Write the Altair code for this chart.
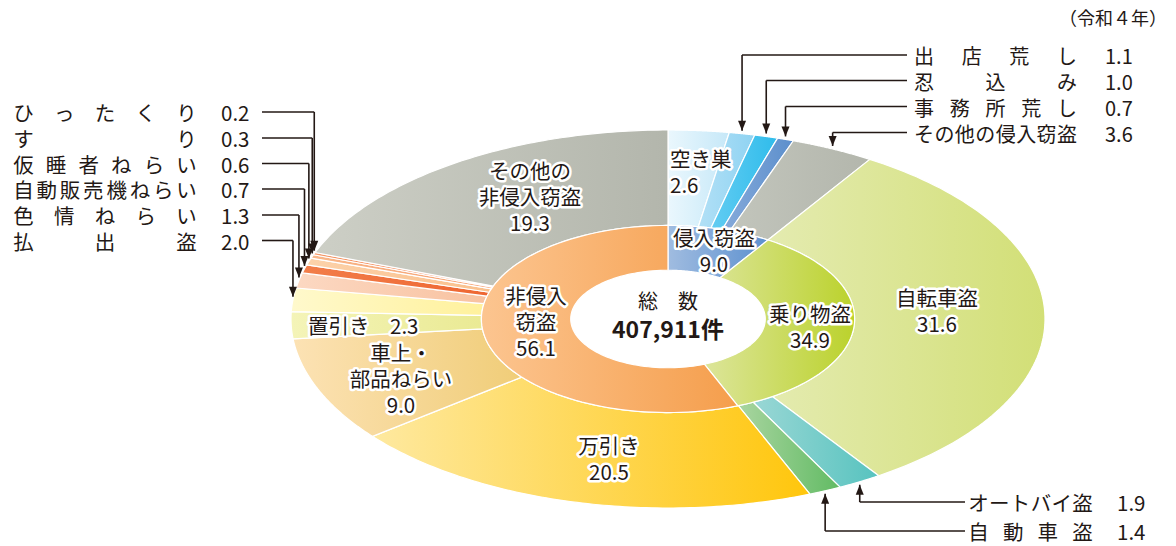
import altair as alt
import pandas as pd

# ---------------- data ----------------
outer_names = ["空き巣", "出店荒し", "忍込み", "事務所荒し", "その他の侵入窃盗",
               "自転車盗", "オートバイ盗", "自動車盗",
               "万引き", "車上・部品ねらい", "置引き", "払出盗", "色情ねらい",
               "自動販売機ねらい", "仮睡者ねらい", "すり", "ひったくり", "その他の非侵入窃盗"]
outer_values = [2.6, 1.1, 1.0, 0.7, 3.6,
                31.6, 1.9, 1.4,
                20.5, 9.0, 2.3, 2.0, 1.3, 0.7, 0.6, 0.3, 0.2, 19.3]
inner_names = ["侵入窃盗", "乗り物盗", "非侵入窃盗"]
inner_values = [9.0, 34.9, 56.1]
total_count = 407911
total_title = "総　数"
year_note = "（令和４年）"

rows = []
for i, (n, v) in enumerate(zip(outer_names, outer_values)):
    rows.append({"ring": "outer", "name": n, "value": v, "ord": i})
for i, (n, v) in enumerate(zip(inner_names, inner_values)):
    rows.append({"ring": "inner", "name": n, "value": v, "ord": i})
df = pd.DataFrame(rows)

# ---------------- layout / style ----------------
W, H = 1176, 546
CX, CY, RX, RY = 668, 319, 377, 189


def xd(px):
    return (px - CX) / RX


def yd(py):
    return (CY - py) / RY


XS = alt.Scale(domain=[xd(0), xd(W)], nice=False, zero=False)
YS = alt.Scale(domain=[yd(H), yd(0)], nice=False, zero=False)
R_HOLE, R_MID, R_OUT = 0.258, 0.495, 1.0
N = 90
FONT = "Noto Sans CJK JP"
INK = "#231815"
DY = 3

colors = {
    "空き巣": ("#EAF7FD", "#C6E8F8"),
    "出店荒し": ("#B2E0F6", "#8FD3F2"),
    "忍込み": ("#62CCF2", "#2FBCEB"),
    "事務所荒し": ("#86AADA", "#5C8FCC"),
    "その他の侵入窃盗": ("#C2C5BC", "#B3B6AC"),
    "自転車盗": ("#E4EBB0", "#D2DF76"),
    "オートバイ盗": ("#9AD7D5", "#57C3BF"),
    "自動車盗": ("#A9D5A0", "#62BB64"),
    "万引き": ("#FEE9A0", "#FFC60C"),
    "車上・部品ねらい": ("#FCE2B4", "#F0CD78"),
    "置引き": ("#F4F4B8", "#EAEA94"),
    "払出盗": ("#FFF9CC", "#FFF19C"),
    "色情ねらい": ("#FCD8C2", "#F8C2A0"),
    "自動販売機ねらい": ("#F27E4A", "#EE6632"),
    "仮睡者ねらい": ("#FCD2AA", "#FAC08C"),
    "すり": ("#F9B688", "#F6A070"),
    "ひったくり": ("#F59868", "#F08050"),
    "その他の非侵入窃盗": ("#CDCFC6", "#B3B6AC"),
    "侵入窃盗": ("#A0BCE0", "#5C90CF"),
    "乗り物盗": ("#DCE59A", "#BBD22C"),
    "非侵入窃盗": ("#FCC590", "#F59E4C"),
}


def grad(c1, c2):
    return {"gradient": "linear", "x1": 0, "x2": 1, "y1": 0, "y2": 0,
            "stops": [{"offset": 0, "color": c1}, {"offset": 1, "color": c2}]}


def only(name):
    return alt.datum.name == name


layers = []

# ---------------- slices (elliptical donut via x/y scales) ----------------
for nm in outer_names + inner_names:
    c1, c2 = colors[nm]
    lay = (
        alt.Chart()
        .transform_filter(only(nm))
        .transform_calculate(pts=f"sequence(0, {2 * N + 3})")
        .transform_flatten(["pts"])
        .transform_calculate(
            t=f"datum.pts <= {N} ? datum.pts/{N} : (datum.pts <= {2 * N + 1} ? 1 - (datum.pts-{N + 1})/{N} : 0)")
        .transform_calculate(
            rr=f"(datum.pts <= {N} || datum.pts > {2 * N + 1}) ? datum.r1 : datum.r0")
        .transform_calculate(ang="datum.a0 + (datum.a1 - datum.a0) * datum.t")
        .transform_calculate(X="datum.rr * sin(datum.ang)")
        .transform_calculate(Y="datum.rr * cos(datum.ang)")
        .mark_line(filled=True, fill=grad(c1, c2), stroke="white", strokeWidth=1.2,
                   strokeJoin="round", interpolate="linear")
        .encode(x=alt.X("X:Q", scale=XS, axis=None),
                y=alt.Y("Y:Q", scale=YS, axis=None),
                order=alt.Order("pts:Q"))
    )
    layers.append(lay)

# ---------------- callouts ----------------
ARROW_DOWN = "M-2,-5L2,-5L0,0Z"
ARROW_UP = "M-2,5L2,5L0,0Z"


def callout(name, row_py, name_x0, name_x1, val_x, line_x, fs, direction):
    off = 3 / RY
    if direction == "down":
        ty = f"cos(datum.am) + {off}"
        shape = ARROW_DOWN
    else:
        ty = f"cos(datum.am) - {off}"
        shape = ARROW_UP
    base = (
        alt.Chart()
        .transform_filter(only(name))
        .transform_calculate(tx="sin(datum.am)")
        .transform_calculate(ty=ty)
        .transform_calculate(ry=f"{yd(row_py)}")
        .transform_calculate(hx=f"{xd(line_x)}")
    )
    hline = base.mark_rule(color=INK, strokeWidth=1.6).encode(
        x=alt.X("tx:Q", scale=XS, axis=None), x2=alt.X2("hx"),
        y=alt.Y("ry:Q", scale=YS, axis=None))
    vline = base.mark_rule(color=INK, strokeWidth=1.6).encode(
        x=alt.X("tx:Q", scale=XS, axis=None),
        y=alt.Y("ry:Q", scale=YS, axis=None), y2=alt.Y2("ty"))
    arrow = base.mark_point(shape=shape, filled=True, size=16, color=INK,
                            opacity=1, strokeWidth=0).encode(
        x=alt.X("tx:Q", scale=XS, axis=None),
        y=alt.Y("ty:Q", scale=YS, axis=None))
    a, b = xd(name_x0), xd(name_x1)
    chars = (
        alt.Chart()
        .transform_filter(only(name))
        .transform_calculate(n="length(datum.name)")
        .transform_calculate(ch="split(datum.name, '')")
        .transform_flatten(["ch"])
        .transform_window(idx="row_number()")
        .transform_calculate(cx=f"({a}) + (datum.idx - 1) * (({b}) - ({a})) / (datum.n - 1)")
        .mark_text(font=FONT, fontSize=fs, color=INK, align="center", baseline="middle", dy=DY)
        .encode(x=alt.X("cx:Q", scale=XS, axis=None), y=alt.value(row_py), text="ch:N")
    )
    val = (
        alt.Chart()
        .transform_filter(only(name))
        .transform_calculate(vt="format(datum.value, '.1f')")
        .mark_text(font=FONT, fontSize=fs, color=INK, align="left", baseline="middle", dy=DY)
        .encode(x=alt.value(val_x), y=alt.value(row_py), text="vt:N")
    )
    return [hline, vline, arrow, chars, val]


left_rows = [("ひったくり", 112), ("すり", 138), ("仮睡者ねらい", 163.5),
             ("自動販売機ねらい", 189), ("色情ねらい", 215), ("払出盗", 240.5)]
for nm, ry in left_rows:
    layers += callout(nm, ry, 23.5, 186.5, 221, 262, 20.5, "down")

top_rows = [("出店荒し", 55), ("忍込み", 80.5), ("事務所荒し", 106.5), ("その他の侵入窃盗", 132.5)]
for nm, ry in top_rows:
    layers += callout(nm, ry, 924, 1067, 1105, 907, 20, "down")

bottom_rows = [("オートバイ盗", 502), ("自動車盗", 531)]
for nm, ry in bottom_rows:
    layers += callout(nm, ry, 978.5, 1082.5, 1117, 965, 20.5, "up")

# ---------------- slice labels (with white halo) ----------------
# y is the position of the first line of each label
label_specs = [
    ("その他の非侵入窃盗", "その他の\\n非侵入窃盗\\n", 530, 170, "center"),
    ("空き巣", "空き巣\\n", 670, 158, "left"),
    ("侵入窃盗", "侵入窃盗\\n", 714, 237, "center"),
    ("乗り物盗", "乗り物盗\\n", 810, 313, "center"),
    ("自転車盗", "自転車盗\\n", 937, 297, "center"),
    ("非侵入窃盗", "非侵入\\n窃盗\\n", 536, 295, "center"),
    ("万引き", "万引き\\n", 609, 445, "center"),
    ("車上・部品ねらい", "車上・\\n部品ねらい\\n", 401, 352, "center"),
    ("置引き", "置引き　", 308, 325, "left"),
]
for nm, disp, lx, ly, al in label_specs:
    base = (
        alt.Chart()
        .transform_filter(only(nm))
        .transform_calculate(lbl=f"'{disp}' + format(datum.value, '.1f')")
    )
    halo = base.mark_text(font=FONT, fontSize=20.5, lineBreak="\n", lineHeight=26,
                          align=al, baseline="middle", dy=DY, color="white", stroke="white",
                          strokeWidth=5, strokeJoin="round").encode(
        x=alt.value(lx), y=alt.value(ly), text="lbl:N")
    txt = base.mark_text(font=FONT, fontSize=20.5, lineBreak="\n", lineHeight=26,
                         align=al, baseline="middle", dy=DY, color=INK).encode(
        x=alt.value(lx), y=alt.value(ly), text="lbl:N")
    layers += [halo, txt]

# ---------------- centre & note ----------------
one = "datum.ring == 'inner' && datum.ord == 0"
layers.append(
    alt.Chart().transform_filter(one)
    .mark_text(font=FONT, fontSize=20, color=INK, align="center", baseline="middle", dy=DY)
    .encode(x=alt.value(668), y=alt.value(300), text=alt.value(total_title)))
layers.append(
    alt.Chart().transform_filter(one)
    .mark_text(font=FONT, fontSize=23, fontWeight="bold", color=INK, align="center", baseline="middle", dy=DY)
    .encode(x=alt.value(668), y=alt.value(328), text=alt.value(f"{total_count:,}件")))
layers.append(
    alt.Chart().transform_filter(one)
    .mark_text(font=FONT, fontSize=18, color=INK, align="right", baseline="middle", dy=DY)
    .encode(x=alt.value(1167), y=alt.value(17), text=alt.value(year_note)))

chart = (
    alt.layer(*layers, data=df)
    .transform_window(cum="sum(value)", groupby=["ring"], sort=[alt.SortField("ord")], frame=[None, 0])
    .transform_joinaggregate(total="sum(value)", groupby=["ring"])
    .transform_calculate(a0="2*PI*(datum.cum - datum.value)/datum.total")
    .transform_calculate(a1="2*PI*datum.cum/datum.total")
    .transform_calculate(am="(datum.a0 + datum.a1)/2")
    .transform_calculate(r0=f"datum.ring == 'outer' ? {R_MID} : {R_HOLE}")
    .transform_calculate(r1=f"datum.ring == 'outer' ? {R_OUT} : {R_MID}")
    .properties(width=W, height=H, padding=0, autosize="none", background="white")
    .configure_view(stroke=None)
)

chart.save("out.html", embed_options={"renderer": "svg", "actions": False})
